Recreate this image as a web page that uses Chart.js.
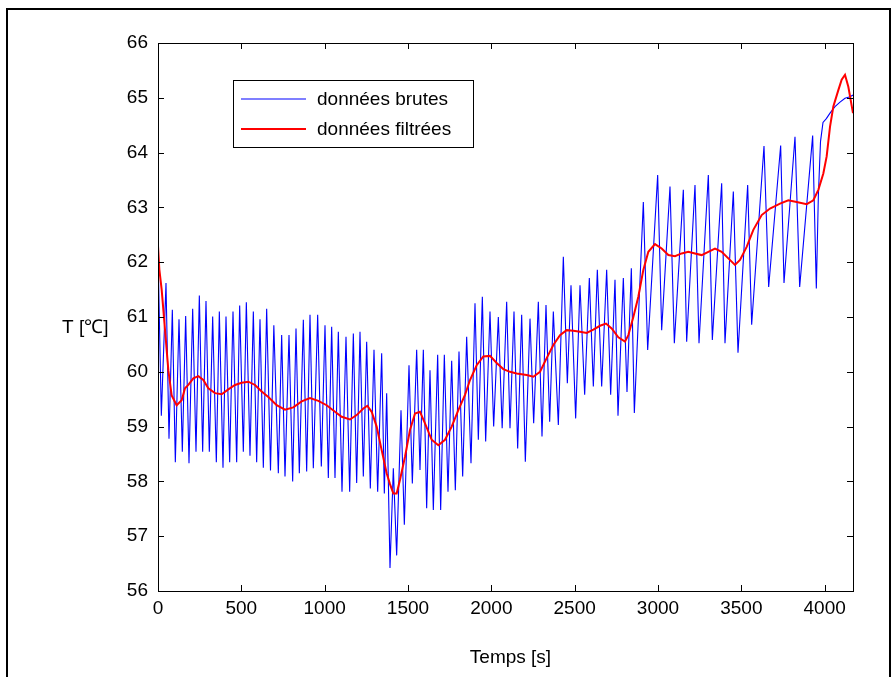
<!DOCTYPE html>
<html>
<head>
<meta charset="utf-8">
<script src="https://cdn.jsdelivr.net/npm/chart.js@4"></script>
<style>
  html, body { margin: 0; padding: 0; background: #fff; }
  #wrap { width: 894px; height: 677px; }
</style>
</head>
<body>
<div id="wrap"><canvas id="tempChart" width="894" height="677"></canvas></div>
<script>
const rawTime = [
  0, 20, 48, 66, 86, 104, 126, 146, 166, 186, 208, 228, 248, 268, 288, 308, 328, 350, 368, 390,
  408, 430, 450, 472, 490, 512, 530, 552, 572, 592, 612, 632, 652, 675, 695, 722, 742, 762, 786, 808,
  828, 848, 872, 892, 912, 932, 958, 980, 1002, 1022, 1042, 1062, 1082, 1104, 1128, 1150, 1172, 1192, 1212, 1232,
  1252, 1274, 1296, 1318, 1342, 1358, 1372, 1392, 1412, 1432, 1458, 1478, 1506, 1526, 1552, 1572, 1592, 1612, 1632, 1652,
  1678, 1696, 1718, 1740, 1762, 1784, 1806, 1828, 1852, 1878, 1902, 1922, 1946, 1966, 1992, 2014, 2042, 2065, 2092, 2112,
  2136, 2158, 2182, 2204, 2232, 2254, 2282, 2304, 2328, 2350, 2372, 2402, 2432, 2456, 2478, 2506, 2532, 2560, 2588, 2612,
  2636, 2662, 2692, 2716, 2742, 2760, 2792, 2814, 2840, 2858, 2912, 2938, 2998, 3022, 3072, 3098, 3152, 3172, 3222, 3246,
  3302, 3326, 3382, 3402, 3452, 3480, 3538, 3562, 3636, 3664, 3736, 3756, 3822, 3850, 3928, 3950, 3962, 3975, 3990, 4010,
  4032, 4062, 4092, 4122, 4152, 4170
];
const rawTemp = [
  62.2, 59.2, 61.62, 58.78, 61.13, 58.35, 60.96, 58.54, 61.02, 58.33, 61.15, 58.54, 61.39, 58.54, 61.29, 58.54, 61.01, 58.35, 61.10, 58.25,
  61.01, 58.35, 61.10, 58.35, 61.21, 58.54, 61.27, 58.47, 61.10, 58.35, 60.96, 58.25, 61.15, 58.20, 60.85, 58.15, 60.67, 58.09, 60.67, 58.00,
  60.79, 58.15, 60.95, 58.18, 61.04, 58.24, 61.04, 58.27, 60.85, 58.06, 60.82, 58.06, 60.73, 57.81, 60.64, 57.81, 60.70, 57.97, 60.73, 58.09,
  60.55, 57.87, 60.40, 57.81, 60.34, 57.78, 59.61, 56.42, 58.24, 56.65, 59.30, 57.21, 60.12, 57.96, 60.40, 58.21, 60.40, 57.51, 60.03, 57.48,
  60.31, 57.48, 60.31, 57.81, 60.20, 57.84, 60.37, 58.09, 60.64, 58.33, 61.25, 58.76, 61.37, 58.73, 61.10, 59.00, 61.00, 58.97, 61.28, 58.97,
  61.10, 58.60, 61.04, 58.36, 60.97, 59.06, 61.28, 58.82, 61.22, 59.09, 61.10, 59.03, 62.10, 59.79, 61.58, 59.15, 61.58, 59.58, 61.71, 59.73,
  61.86, 59.73, 61.86, 59.58, 61.68, 59.20, 61.71, 59.63, 61.89, 59.25, 63.10, 60.40, 63.59, 60.76, 63.38, 60.52, 63.32, 60.55, 63.41, 60.52,
  63.59, 60.58, 63.44, 60.52, 63.29, 60.35, 63.41, 60.86, 64.12, 61.55, 64.13, 61.62, 64.29, 61.55, 64.31, 61.52, 63.20, 64.20, 64.55, 64.62,
  64.72, 64.84, 64.92, 64.99, 65.02, 65.05
];

// filtered signal
const filtTime = [
  0, 8, 22, 42, 62, 82, 112, 142, 162, 182, 212, 242, 272, 302, 342, 382, 422, 462, 502, 542,
  582, 622, 662, 712, 762, 812, 862, 912, 962, 1012, 1062, 1102, 1152, 1192, 1232, 1256, 1282, 1312, 1342, 1372,
  1392, 1412, 1432, 1452, 1482, 1512, 1542, 1572, 1602, 1642, 1682, 1722, 1762, 1802, 1842, 1872, 1912, 1952, 1992, 2032,
  2072, 2112, 2152, 2212, 2252, 2292, 2332, 2372, 2412, 2452, 2492, 2532, 2572, 2612, 2652, 2688, 2722, 2762, 2802, 2822,
  2852, 2882, 2912, 2942, 2982, 3022, 3062, 3102, 3142, 3182, 3222, 3262, 3302, 3342, 3382, 3422, 3462, 3492, 3532, 3572,
  3622, 3672, 3732, 3782, 3832, 3892, 3932, 3962, 3992, 4012, 4032, 4052, 4082, 4102, 4122, 4142, 4170
];
const filtTemp = [
  62.3, 61.87, 61.5, 60.77, 60.03, 59.57, 59.39, 59.48, 59.70, 59.76, 59.88, 59.92, 59.85, 59.70, 59.61, 59.59, 59.68, 59.76, 59.80, 59.82,
  59.76, 59.64, 59.54, 59.39, 59.31, 59.35, 59.46, 59.52, 59.47, 59.39, 59.27, 59.18, 59.13, 59.21, 59.33, 59.38, 59.27, 59.00, 58.57, 58.15,
  57.95, 57.78, 57.78, 58.03, 58.45, 58.94, 59.24, 59.27, 59.06, 58.76, 58.66, 58.76, 59.00, 59.30, 59.58, 59.85, 60.12, 60.28, 60.29, 60.16,
  60.05, 60.00, 59.97, 59.94, 59.91, 60.00, 60.25, 60.49, 60.67, 60.76, 60.75, 60.73, 60.71, 60.77, 60.84, 60.88, 60.79, 60.63, 60.55, 60.67,
  61.00, 61.37, 61.86, 62.19, 62.33, 62.25, 62.13, 62.11, 62.16, 62.19, 62.16, 62.13, 62.19, 62.25, 62.19, 62.07, 61.95, 62.04, 62.28, 62.59,
  62.86, 62.98, 63.07, 63.13, 63.10, 63.06, 63.13, 63.32, 63.62, 63.93, 64.47, 64.84, 65.14, 65.33, 65.42, 65.20, 64.72
];

const seriesLabels = ["données brutes", "données filtrées"];
const xTickValues = [0, 500, 1000, 1500, 2000, 2500, 3000, 3500, 4000];
const yTickValues = [56, 57, 58, 59, 60, 61, 62, 63, 64, 65, 66];
const xRange = [0, 4170];
const xTitle = "Temps [s]";
const yTitle = "T [\u2103]";

const FONT = '"Liberation Sans", Arial, sans-serif';
Chart.defaults.font.family = FONT;
Chart.defaults.font.size = 19;
Chart.defaults.color = "#000";

const toPoints = (xs, ys) => xs.map((t, i) => ({ x: t, y: ys[i] }));

// matlab-like box, inward ticks, titles and legend
const matlabFrame = {
  id: "matlabFrame",
  afterDraw(chart) {
    const { ctx, chartArea: a, scales } = chart;
    const line = (x1, y1, x2, y2) => {
      ctx.beginPath();
      ctx.moveTo(x1, y1);
      ctx.lineTo(x2, y2);
      ctx.stroke();
    };
    ctx.save();
    ctx.strokeStyle = "#000";
    ctx.lineWidth = 1;
    ctx.strokeRect(Math.round(a.left) + 0.5, Math.round(a.top) + 0.5,
      Math.round(a.right - a.left), Math.round(a.bottom - a.top));

    scales.x.ticks.forEach(t => {
      const px = Math.round(scales.x.getPixelForValue(t.value)) + 0.5;
      line(px, a.bottom, px, a.bottom - 6);
      line(px, a.top, px, a.top + 6);
    });
    scales.y.ticks.forEach(t => {
      const py = Math.round(scales.y.getPixelForValue(t.value)) + 0.5;
      line(a.left, py, a.left + 6, py);
      line(a.right, py, a.right - 6, py);
    });

    // outer figure frame
    ctx.lineWidth = 2;
    ctx.strokeRect(7, 9, 883, 700);

    // axis titles
    ctx.fillStyle = "#000";
    ctx.font = "19px " + FONT;
    ctx.textBaseline = "middle";
    ctx.textAlign = "center";
    ctx.fillText(xTitle, (a.left + a.right) / 2 + 5, 658);
    ctx.textAlign = "left";
    ctx.fillText(yTitle, 62, 328);

    // legend box
    const bx = 233.5, by = 80.5, bw = 240, bh = 67;
    ctx.fillStyle = "#fff";
    ctx.fillRect(bx, by, bw, bh);
    ctx.lineWidth = 1;
    ctx.strokeRect(bx, by, bw, bh);
    const rows = [99, 129];
    chart.data.datasets.forEach((ds, i) => {
      ctx.strokeStyle = ds.borderColor;
      ctx.lineWidth = ds.borderWidth;
      line(241, rows[i], 306, rows[i]);
      ctx.fillStyle = "#000";
      ctx.fillText(ds.label, 317, rows[i] + 1);
    });
    ctx.restore();
  }
};

new Chart(document.getElementById("tempChart"), {
  type: "line",
  data: {
    datasets: [
      {
        label: seriesLabels[0],
        data: toPoints(rawTime, rawTemp),
        borderColor: "#0000ff",
        borderWidth: 1.1,
        pointRadius: 0,
        tension: 0,
        order: 2
      },
      {
        label: seriesLabels[1],
        data: toPoints(filtTime, filtTemp),
        borderColor: "#ff0000",
        borderWidth: 2,
        pointRadius: 0,
        tension: 0,
        order: 1
      }
    ]
  },
  options: {
    responsive: false,
    animation: false,
    layout: { padding: { top: 43, right: 41, left: 0, bottom: 0 } },
    plugins: {
      legend: { display: false },
      tooltip: { enabled: false }
    },
    scales: {
      x: {
        type: "linear",
        min: xRange[0],
        max: xRange[1],
        grid: { display: false, drawTicks: false },
        border: { display: false },
        afterBuildTicks: s => { s.ticks = xTickValues.map(v => ({ value: v })); },
        ticks: { padding: 6, maxRotation: 0, autoSkip: false, callback: v => String(v) },
        afterFit: s => { s.height = 86; }
      },
      y: {
        min: yTickValues[0],
        max: yTickValues[yTickValues.length - 1],
        grid: { display: false, drawTicks: false },
        border: { display: false },
        afterBuildTicks: s => { s.ticks = yTickValues.map(v => ({ value: v })); },
        ticks: { padding: 10, autoSkip: false, callback: v => String(v) },
        afterFit: s => { s.width = 158; }
      }
    }
  },
  plugins: [matlabFrame]
});
</script>
</body>
</html>
